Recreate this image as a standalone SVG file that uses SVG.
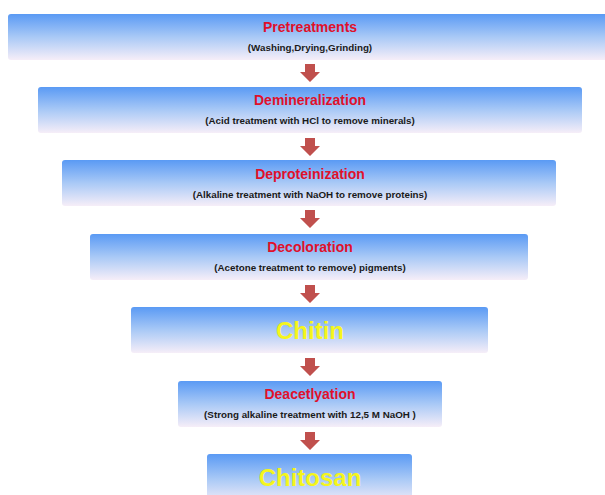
<svg xmlns="http://www.w3.org/2000/svg" width="605" height="495" viewBox="0 0 605 495">
<defs>
<linearGradient id="g" x1="0" y1="0" x2="0" y2="1">
<stop offset="0" stop-color="#5a9af4"/>
<stop offset="0.5" stop-color="#a9c9f6"/>
<stop offset="1" stop-color="#f6eef8"/>
</linearGradient>
<path id="arr" d="M-5,0 H5 V8 H10 L0,18 L-10,8 H-5 Z" fill="#c0504d"/>
</defs>
<style>
.box{fill:url(#g);}
.t{font-family:"Liberation Sans",Arial,sans-serif;font-weight:bold;font-size:14px;fill:#e0102a;text-anchor:middle;}
.s{font-family:"Liberation Sans",Arial,sans-serif;font-weight:bold;font-size:9.8px;fill:#1a1a1a;text-anchor:middle;}
.y{font-family:"Liberation Sans",Arial,sans-serif;font-weight:bold;font-size:24px;fill:#f5f51c;text-anchor:middle;}
</style>
<rect width="605" height="495" fill="#ffffff"/>
<g id="connectors">
<use href="#arr" x="310" y="64"/>
<use href="#arr" x="310" y="138"/>
<use href="#arr" x="310" y="210"/>
<use href="#arr" x="310" y="285"/>
<use href="#arr" x="310" y="358"/>
<use href="#arr" x="310" y="432"/>
</g>
<g id="pretreatments">
<rect class="box" x="8" y="14" width="605" height="46" rx="3"/>
<text class="t" x="310" y="32">Pretreatments</text>
<text class="s" x="310" y="51">(Washing,Drying,Grinding)</text>
</g>
<g id="demineralization">
<rect class="box" x="38" y="87" width="544" height="46" rx="3"/>
<text class="t" x="310" y="105">Demineralization</text>
<text class="s" x="310" y="124">(Acid treatment with HCl to remove minerals)</text>
</g>
<g id="deproteinization">
<rect class="box" x="62" y="160" width="494" height="46" rx="3"/>
<text class="t" x="310" y="179">Deproteinization</text>
<text class="s" x="310" y="198">(Alkaline treatment with NaOH to remove proteins)</text>
</g>
<g id="decoloration">
<rect class="box" x="90" y="234" width="438" height="46" rx="3"/>
<text class="t" x="310" y="252">Decoloration</text>
<text class="s" x="310" y="271">(Acetone treatment to remove) pigments)</text>
</g>
<g id="chitin">
<rect class="box" x="131" y="307" width="357" height="46" rx="3"/>
<text class="y" x="310" y="339">Chitin</text>
</g>
<g id="deacetlyation">
<rect class="box" x="178" y="381" width="264" height="46" rx="3"/>
<text class="t" x="310" y="399">Deacetlyation</text>
<text class="s" x="310" y="418">(Strong alkaline treatment with 12,5 M NaOH )</text>
</g>
<g id="chitosan">
<rect class="box" x="207" y="454" width="205" height="50" rx="3"/>
<text class="y" x="310" y="486">Chitosan</text>
</g>
</svg>
